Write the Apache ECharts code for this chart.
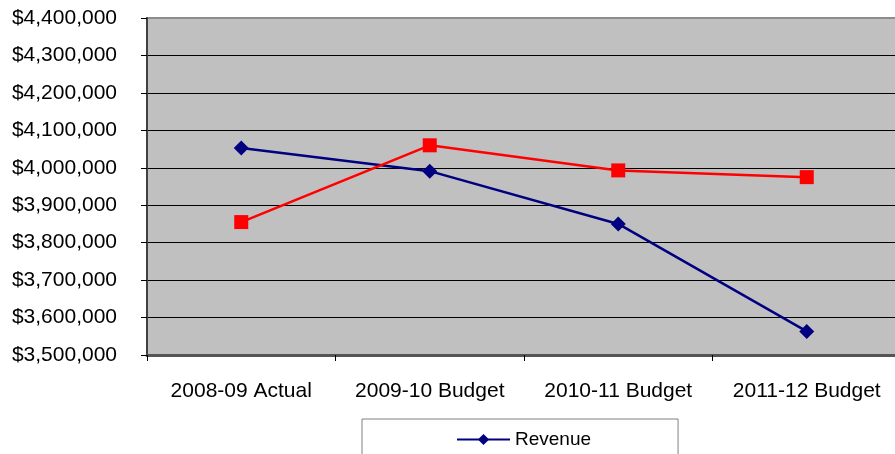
<!DOCTYPE html>
<html>
<head>
<meta charset="utf-8">
<script src="https://cdn.jsdelivr.net/npm/echarts@6/dist/echarts.min.js"></script>
<style>
  html, body { margin: 0; padding: 0; background: #ffffff; overflow: hidden; }
  /* the plot runs a few pixels past the right edge of the window */
  #chart { width: 901px; height: 454px; }
</style>
</head>
<body>
<div id="chart"></div>
<script>
// Fiscal years shown along the x axis
const years = ['2008-09 Actual', '2009-10 Budget', '2010-11 Budget', '2011-12 Budget'];

// Revenue by year (dollars)
const revenue = [4053000, 3991000, 3850000, 3563000];

// Expenditures by year (dollars)
const expenditures = [3855000, 4060000, 3993000, 3975000];

// Value axis range and step
const yMin = 3500000;
const yMax = 4400000;
const yStep = 100000;

function dollars(v) {
  return '$' + v.toString().replace(/\B(?=(\d{3})+(?!\d))/g, ',');
}

const chart = echarts.init(document.getElementById('chart'), null, { renderer: 'canvas' });

chart.setOption({
  animation: false,
  backgroundColor: '#ffffff',
  textStyle: { fontFamily: '"Liberation Sans", Arial, sans-serif' },
  grid: {
    left: 147,
    top: 18,
    right: 0,
    bottom: 99,
    show: true,
    backgroundColor: '#c0c0c0',
    borderColor: '#8c8c8c',
    borderWidth: 2
  },
  legend: {
    data: ['Revenue'],
    left: 362,
    top: 419,
    orient: 'horizontal',
    padding: [11, 87, 30, 94],
    borderColor: '#808080',
    borderWidth: 1,
    backgroundColor: '#ffffff',
    itemWidth: 53,
    itemHeight: 14,
    textStyle: { fontSize: 19, color: '#000000', fontFamily: '"Liberation Sans", Arial, sans-serif' }
  },
  xAxis: {
    type: 'category',
    data: years,
    boundaryGap: true,
    axisLine: { show: true, lineStyle: { color: '#555555', width: 3 } },
    axisTick: { show: true, length: 6, lineStyle: { color: '#000000', width: 1 } },
    axisLabel: { fontSize: 21, color: '#000000', margin: 26, interval: 0 },
    splitLine: { show: false }
  },
  yAxis: {
    type: 'value',
    min: yMin,
    max: yMax,
    interval: yStep,
    axisLine: { show: true, lineStyle: { color: '#404040', width: 2 } },
    axisTick: { show: true, length: 6, lineStyle: { color: '#000000', width: 1 } },
    axisLabel: { fontSize: 21, color: '#000000', margin: 30, formatter: dollars },
    splitLine: { show: true, showMinLine: false, showMaxLine: false, lineStyle: { color: '#000000', width: 1 } }
  },
  series: [
    {
      name: 'Revenue',
      type: 'line',
      data: revenue,
      symbol: 'diamond',
      symbolSize: 15,
      lineStyle: { color: '#000080', width: 2.5 },
      itemStyle: { color: '#000080' },
      z: 3
    },
    {
      name: 'Expenditures',
      type: 'line',
      data: expenditures,
      symbol: 'rect',
      symbolSize: 14,
      lineStyle: { color: '#ff0000', width: 2.5 },
      itemStyle: { color: '#ff0000' },
      z: 4
    }
  ]
});
</script>
</body>
</html>
